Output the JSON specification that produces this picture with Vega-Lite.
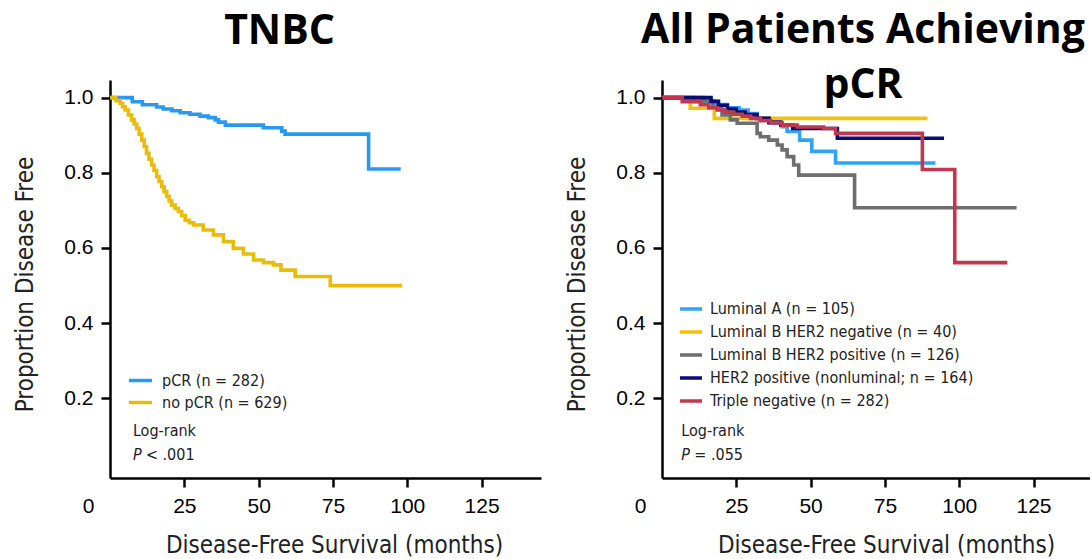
{
  "$schema": "https://vega.github.io/schema/vega-lite/v6.json",
  "background": "white",
  "padding": {"left": 13, "top": 10, "right": 0, "bottom": 0},
  "datasets": {
    "tnbc": [
      {"group": "pCR (n = 282)", "months": 0, "survival": 1.0},
      {"group": "pCR (n = 282)", "months": 7.5, "survival": 0.989},
      {"group": "pCR (n = 282)", "months": 10.9, "survival": 0.981},
      {"group": "pCR (n = 282)", "months": 15.7, "survival": 0.975},
      {"group": "pCR (n = 282)", "months": 17.9, "survival": 0.970},
      {"group": "pCR (n = 282)", "months": 20.8, "survival": 0.965},
      {"group": "pCR (n = 282)", "months": 23.6, "survival": 0.960},
      {"group": "pCR (n = 282)", "months": 26.9, "survival": 0.956},
      {"group": "pCR (n = 282)", "months": 30.3, "survival": 0.951},
      {"group": "pCR (n = 282)", "months": 33.1, "survival": 0.947},
      {"group": "pCR (n = 282)", "months": 35.4, "survival": 0.941},
      {"group": "pCR (n = 282)", "months": 36.5, "survival": 0.935},
      {"group": "pCR (n = 282)", "months": 38.8, "survival": 0.927},
      {"group": "pCR (n = 282)", "months": 51.6, "survival": 0.920},
      {"group": "pCR (n = 282)", "months": 57.8, "survival": 0.911},
      {"group": "pCR (n = 282)", "months": 58.9, "survival": 0.903},
      {"group": "pCR (n = 282)", "months": 87.0, "survival": 0.810},
      {"group": "pCR (n = 282)", "months": 97.8, "survival": 0.810},
      {"group": "no pCR (n = 629)", "months": 0, "survival": 1.0},
      {"group": "no pCR (n = 629)", "months": 2.0, "survival": 0.992},
      {"group": "no pCR (n = 629)", "months": 3.4, "survival": 0.985},
      {"group": "no pCR (n = 629)", "months": 4.2, "survival": 0.976},
      {"group": "no pCR (n = 629)", "months": 5.1, "survival": 0.967},
      {"group": "no pCR (n = 629)", "months": 6.2, "survival": 0.954},
      {"group": "no pCR (n = 629)", "months": 7.3, "survival": 0.941},
      {"group": "no pCR (n = 629)", "months": 8.1, "survival": 0.930},
      {"group": "no pCR (n = 629)", "months": 9.0, "survival": 0.918},
      {"group": "no pCR (n = 629)", "months": 9.8, "survival": 0.903},
      {"group": "no pCR (n = 629)", "months": 10.7, "survival": 0.887},
      {"group": "no pCR (n = 629)", "months": 11.5, "survival": 0.870},
      {"group": "no pCR (n = 629)", "months": 12.3, "survival": 0.852},
      {"group": "no pCR (n = 629)", "months": 13.1, "survival": 0.836},
      {"group": "no pCR (n = 629)", "months": 14.0, "survival": 0.821},
      {"group": "no pCR (n = 629)", "months": 14.8, "survival": 0.806},
      {"group": "no pCR (n = 629)", "months": 15.7, "survival": 0.790},
      {"group": "no pCR (n = 629)", "months": 16.5, "survival": 0.777},
      {"group": "no pCR (n = 629)", "months": 17.4, "survival": 0.763},
      {"group": "no pCR (n = 629)", "months": 18.2, "survival": 0.750},
      {"group": "no pCR (n = 629)", "months": 19.1, "survival": 0.737},
      {"group": "no pCR (n = 629)", "months": 19.9, "survival": 0.725},
      {"group": "no pCR (n = 629)", "months": 20.8, "survival": 0.714},
      {"group": "no pCR (n = 629)", "months": 21.9, "survival": 0.705},
      {"group": "no pCR (n = 629)", "months": 23.0, "survival": 0.697},
      {"group": "no pCR (n = 629)", "months": 24.1, "survival": 0.686},
      {"group": "no pCR (n = 629)", "months": 25.3, "survival": 0.674},
      {"group": "no pCR (n = 629)", "months": 26.7, "survival": 0.667},
      {"group": "no pCR (n = 629)", "months": 28.1, "survival": 0.661},
      {"group": "no pCR (n = 629)", "months": 31.4, "survival": 0.648},
      {"group": "no pCR (n = 629)", "months": 34.8, "survival": 0.635},
      {"group": "no pCR (n = 629)", "months": 38.2, "survival": 0.617},
      {"group": "no pCR (n = 629)", "months": 41.5, "survival": 0.599},
      {"group": "no pCR (n = 629)", "months": 44.9, "survival": 0.584},
      {"group": "no pCR (n = 629)", "months": 48.3, "survival": 0.568},
      {"group": "no pCR (n = 629)", "months": 51.6, "survival": 0.561},
      {"group": "no pCR (n = 629)", "months": 55.0, "survival": 0.555},
      {"group": "no pCR (n = 629)", "months": 57.5, "survival": 0.541},
      {"group": "no pCR (n = 629)", "months": 62.3, "survival": 0.524},
      {"group": "no pCR (n = 629)", "months": 74.1, "survival": 0.500},
      {"group": "no pCR (n = 629)", "months": 98.3, "survival": 0.500}
    ],
    "pcr": [
      {"group": "Luminal A (n = 105)", "months": 0, "survival": 1.0},
      {"group": "Luminal A (n = 105)", "months": 11, "survival": 0.990},
      {"group": "Luminal A (n = 105)", "months": 18, "survival": 0.982},
      {"group": "Luminal A (n = 105)", "months": 22, "survival": 0.973},
      {"group": "Luminal A (n = 105)", "months": 26, "survival": 0.967},
      {"group": "Luminal A (n = 105)", "months": 29, "survival": 0.958},
      {"group": "Luminal A (n = 105)", "months": 32, "survival": 0.945},
      {"group": "Luminal A (n = 105)", "months": 36, "survival": 0.932},
      {"group": "Luminal A (n = 105)", "months": 40.4, "survival": 0.923},
      {"group": "Luminal A (n = 105)", "months": 42.1, "survival": 0.910},
      {"group": "Luminal A (n = 105)", "months": 46.3, "survival": 0.887},
      {"group": "Luminal A (n = 105)", "months": 50.4, "survival": 0.857},
      {"group": "Luminal A (n = 105)", "months": 58.4, "survival": 0.826},
      {"group": "Luminal A (n = 105)", "months": 92.0, "survival": 0.826},
      {"group": "Luminal B HER2 negative (n = 40)", "months": 0, "survival": 1.0},
      {"group": "Luminal B HER2 negative (n = 40)", "months": 9.5, "survival": 0.972},
      {"group": "Luminal B HER2 negative (n = 40)", "months": 17.6, "survival": 0.945},
      {"group": "Luminal B HER2 negative (n = 40)", "months": 89.3, "survival": 0.945},
      {"group": "Luminal B HER2 positive (n = 126)", "months": 0, "survival": 1.0},
      {"group": "Luminal B HER2 positive (n = 126)", "months": 14, "survival": 0.991},
      {"group": "Luminal B HER2 positive (n = 126)", "months": 17, "survival": 0.975},
      {"group": "Luminal B HER2 positive (n = 126)", "months": 20.2, "survival": 0.954},
      {"group": "Luminal B HER2 positive (n = 126)", "months": 23, "survival": 0.941},
      {"group": "Luminal B HER2 positive (n = 126)", "months": 25.3, "survival": 0.932},
      {"group": "Luminal B HER2 positive (n = 126)", "months": 32, "survival": 0.905},
      {"group": "Luminal B HER2 positive (n = 126)", "months": 33.1, "survival": 0.896},
      {"group": "Luminal B HER2 positive (n = 126)", "months": 35.9, "survival": 0.887},
      {"group": "Luminal B HER2 positive (n = 126)", "months": 38.8, "survival": 0.874},
      {"group": "Luminal B HER2 positive (n = 126)", "months": 40.4, "survival": 0.861},
      {"group": "Luminal B HER2 positive (n = 126)", "months": 42.1, "survival": 0.843},
      {"group": "Luminal B HER2 positive (n = 126)", "months": 44.3, "survival": 0.821},
      {"group": "Luminal B HER2 positive (n = 126)", "months": 46, "survival": 0.794},
      {"group": "Luminal B HER2 positive (n = 126)", "months": 64.8, "survival": 0.707},
      {"group": "Luminal B HER2 positive (n = 126)", "months": 119.3, "survival": 0.707},
      {"group": "HER2 positive (nonluminal; n = 164)", "months": 0, "survival": 1.0},
      {"group": "HER2 positive (nonluminal; n = 164)", "months": 16.5, "survival": 0.990},
      {"group": "HER2 positive (nonluminal; n = 164)", "months": 19, "survival": 0.980},
      {"group": "HER2 positive (nonluminal; n = 164)", "months": 22, "survival": 0.970},
      {"group": "HER2 positive (nonluminal; n = 164)", "months": 25, "survival": 0.962},
      {"group": "HER2 positive (nonluminal; n = 164)", "months": 28, "survival": 0.955},
      {"group": "HER2 positive (nonluminal; n = 164)", "months": 32, "survival": 0.945},
      {"group": "HER2 positive (nonluminal; n = 164)", "months": 36, "survival": 0.935},
      {"group": "HER2 positive (nonluminal; n = 164)", "months": 40, "survival": 0.927},
      {"group": "HER2 positive (nonluminal; n = 164)", "months": 44, "survival": 0.918},
      {"group": "HER2 positive (nonluminal; n = 164)", "months": 59, "survival": 0.892},
      {"group": "HER2 positive (nonluminal; n = 164)", "months": 94.9, "survival": 0.892},
      {"group": "Triple negative (n = 282)", "months": 0, "survival": 1.0},
      {"group": "Triple negative (n = 282)", "months": 6.8, "survival": 0.989},
      {"group": "Triple negative (n = 282)", "months": 12.9, "survival": 0.981},
      {"group": "Triple negative (n = 282)", "months": 15.7, "survival": 0.973},
      {"group": "Triple negative (n = 282)", "months": 18.6, "survival": 0.967},
      {"group": "Triple negative (n = 282)", "months": 21.3, "survival": 0.961},
      {"group": "Triple negative (n = 282)", "months": 24.1, "survival": 0.956},
      {"group": "Triple negative (n = 282)", "months": 27.0, "survival": 0.951},
      {"group": "Triple negative (n = 282)", "months": 29.8, "survival": 0.945},
      {"group": "Triple negative (n = 282)", "months": 33.1, "survival": 0.939},
      {"group": "Triple negative (n = 282)", "months": 36.5, "survival": 0.933},
      {"group": "Triple negative (n = 282)", "months": 40.4, "survival": 0.927},
      {"group": "Triple negative (n = 282)", "months": 45.5, "survival": 0.922},
      {"group": "Triple negative (n = 282)", "months": 54.4, "survival": 0.918},
      {"group": "Triple negative (n = 282)", "months": 58.4, "survival": 0.905},
      {"group": "Triple negative (n = 282)", "months": 87.6, "survival": 0.809},
      {"group": "Triple negative (n = 282)", "months": 98.5, "survival": 0.561},
      {"group": "Triple negative (n = 282)", "months": 116.2, "survival": 0.561}
    ]
  },
  "bounds": "flush",
  "spacing": 121,
  "resolve": {"scale": {"color": "independent", "x": "independent", "y": "independent"}, "legend": {"color": "independent"}},
  "hconcat": [
    {
      "width": 431,
      "height": 398,
      "title": {"text": "TNBC", "dx": -46, "offset": 27},
      "layer": [
        {
          "data": {"name": "tnbc"},
          "mark": {"type": "line", "interpolate": "step-after", "strokeWidth": 3.6},
          "encoding": {
            "x": {
              "field": "months", "type": "quantitative",
              "scale": {"domain": [0, 145], "nice": false, "zero": false},
              "axis": {
                "values": [0, 25, 50, 75, 100, 125],
                "title": "Disease-Free Survival (months)",
                "labelFlush": false,
                "labelOffset": {"condition": {"test": "datum.value === 0", "value": -22}, "value": 0},
                "tickOpacity": {"condition": {"test": "datum.value === 0", "value": 0}, "value": 1},
                "titleX": 224, "titleY": 67, "titleBaseline": "middle"
              }
            },
            "y": {
              "field": "survival", "type": "quantitative",
              "scale": {"domain": [-0.012, 1.047], "nice": false, "zero": false},
              "axis": {
                "values": [0.2, 0.4, 0.6, 0.8, 1.0], "format": ".1f",
                "title": "Proportion Disease Free",
                "titleX": -85, "titleY": 204, "titleBaseline": "middle"
              }
            },
            "color": {
              "field": "group", "type": "nominal",
              "scale": {"domain": ["pCR (n = 282)", "no pCR (n = 629)"], "range": ["#2A98F0", "#E9BC0C"]},
              "legend": {"orient": "none", "legendX": 17, "legendY": 287, "title": null, "symbolSize": 529, "labelOffset": 8, "rowPadding": 0}
            }
          }
        },
        {
          "data": {"values": [{}]},
          "mark": {"type": "text", "align": "left", "baseline": "middle", "font": "Liberation Sans Narrow, DejaVu Sans Condensed, sans-serif", "fontSize": 16, "color": "#222222"},
          "encoding": {"x": {"datum": 7.7, "type": "quantitative"}, "y": {"datum": 0.113, "type": "quantitative"}, "text": {"value": "Log-rank"}}
        },
        {
          "data": {"values": [{}]},
          "mark": {"type": "text", "align": "left", "baseline": "middle", "font": "Liberation Sans Narrow, DejaVu Sans Condensed, sans-serif", "fontSize": 16, "fontStyle": "italic", "color": "#222222"},
          "encoding": {"x": {"datum": 7.7, "type": "quantitative"}, "y": {"datum": 0.049, "type": "quantitative"}, "text": {"value": "P"}}
        },
        {
          "data": {"values": [{}]},
          "mark": {"type": "text", "align": "left", "baseline": "middle", "dx": 13, "font": "Liberation Sans Narrow, DejaVu Sans Condensed, sans-serif", "fontSize": 16, "color": "#222222"},
          "encoding": {"x": {"datum": 7.7, "type": "quantitative"}, "y": {"datum": 0.049, "type": "quantitative"}, "text": {"value": "< .001"}}
        }
      ]
    },
    {
      "width": 428,
      "height": 398,
      "title": {"text": ["All Patients Achieving", "pCR"], "dx": -13, "offset": -27},
      "layer": [
        {
          "data": {"name": "pcr"},
          "mark": {"type": "line", "interpolate": "step-after", "strokeWidth": 3.6},
          "encoding": {
            "x": {
              "field": "months", "type": "quantitative",
              "scale": {"domain": [0, 144], "nice": false, "zero": false},
              "axis": {
                "values": [0, 25, 50, 75, 100, 125],
                "title": "Disease-Free Survival (months)",
                "labelFlush": false,
                "labelOffset": {"condition": {"test": "datum.value === 0", "value": -22}, "value": 0},
                "tickOpacity": {"condition": {"test": "datum.value === 0", "value": 0}, "value": 1},
                "titleX": 224, "titleY": 67, "titleBaseline": "middle"
              }
            },
            "y": {
              "field": "survival", "type": "quantitative",
              "scale": {"domain": [-0.012, 1.047], "nice": false, "zero": false},
              "axis": {
                "values": [0.2, 0.4, 0.6, 0.8, 1.0], "format": ".1f",
                "title": "Proportion Disease Free",
                "titleX": -85, "titleY": 204, "titleBaseline": "middle"
              }
            },
            "color": {
              "field": "group", "type": "nominal",
              "scale": {
                "domain": ["Luminal A (n = 105)", "Luminal B HER2 negative (n = 40)", "Luminal B HER2 positive (n = 126)", "HER2 positive (nonluminal; n = 164)", "Triple negative (n = 282)"],
                "range": ["#2FA4F5", "#F0C20A", "#6E6E6E", "#0B0B72", "#C0374E"]
              },
              "legend": {"orient": "none", "legendX": 16, "legendY": 216, "title": null, "symbolSize": 484, "labelOffset": 6, "rowPadding": 2}
            }
          }
        },
        {
          "data": {"values": [{}]},
          "mark": {"type": "text", "align": "left", "baseline": "middle", "font": "Liberation Sans Narrow, DejaVu Sans Condensed, sans-serif", "fontSize": 16, "color": "#222222"},
          "encoding": {"x": {"datum": 6.5, "type": "quantitative"}, "y": {"datum": 0.113, "type": "quantitative"}, "text": {"value": "Log-rank"}}
        },
        {
          "data": {"values": [{}]},
          "mark": {"type": "text", "align": "left", "baseline": "middle", "font": "Liberation Sans Narrow, DejaVu Sans Condensed, sans-serif", "fontSize": 16, "fontStyle": "italic", "color": "#222222"},
          "encoding": {"x": {"datum": 6.5, "type": "quantitative"}, "y": {"datum": 0.049, "type": "quantitative"}, "text": {"value": "P"}}
        },
        {
          "data": {"values": [{}]},
          "mark": {"type": "text", "align": "left", "baseline": "middle", "dx": 13, "font": "Liberation Sans Narrow, DejaVu Sans Condensed, sans-serif", "fontSize": 16, "color": "#222222"},
          "encoding": {"x": {"datum": 6.5, "type": "quantitative"}, "y": {"datum": 0.049, "type": "quantitative"}, "text": {"value": "= .055"}}
        }
      ]
    }
  ],
  "config": {
    "view": {"stroke": null},
    "axis": {
      "grid": false,
      "domainColor": "black",
      "domainWidth": 2.5,
      "tickColor": "black",
      "tickWidth": 2.5,
      "tickSize": 9,
      "labelFont": "Liberation Sans",
      "labelFontSize": 21,
      "labelColor": "black",
      "labelPadding": 8,
      "titleFont": "Liberation Sans Narrow, DejaVu Sans Condensed, sans-serif",
      "titleFontSize": 24,
      "titleFontWeight": "normal",
      "titleColor": "#222222"
    },
    "legend": {
      "symbolType": "stroke",
      "symbolStrokeWidth": 3.5,
      "labelFont": "Liberation Sans Narrow, DejaVu Sans Condensed, sans-serif",
      "labelFontSize": 16,
      "labelColor": "#222222",
      "labelLimit": 400,
      "padding": 0
    },
    "title": {
      "font": "Open Sans",
      "fontSize": 41,
      "fontWeight": "bold",
      "color": "black",
      "anchor": "middle",
      "lineHeight": 55
    }
  }
}
